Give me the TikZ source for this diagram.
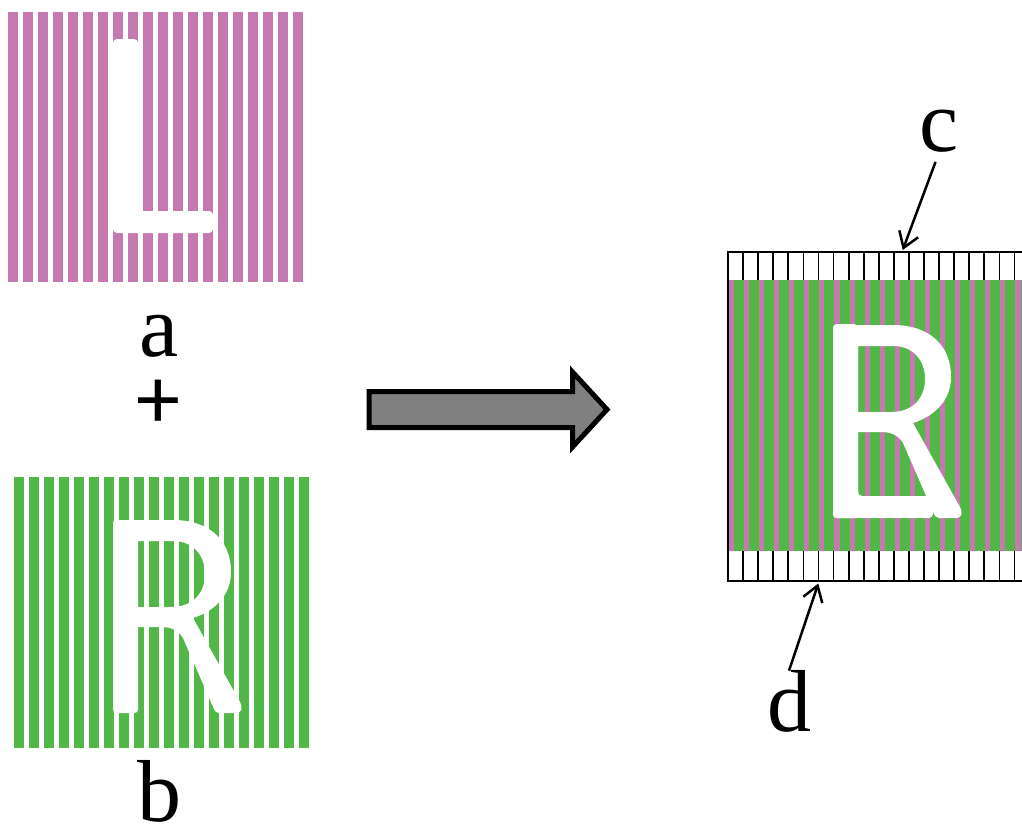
\documentclass[tikz,border=0pt]{standalone}
\usepackage{fontspec}
\setmainfont{Liberation Serif}
\newfontfamily\plusfont{Carlito}
\usetikzlibrary{arrows.meta}
\definecolor{stripepink}{RGB}{198,120,176}
\definecolor{stripegreen}{RGB}{81,184,72}
\definecolor{arrowgray}{RGB}{128,128,128}
\tikzset{
  lbl/.style={inner sep=0pt, outer sep=0pt, font=\fontsize{88}{100}\selectfont},
  pointer/.style={line width=2.5pt, -{Straight Barb[length=15pt,width=20pt,line width=2.5pt]}},
  letterL/.pic={
    \fill[white, rounded corners=4pt] (0,0) -- (25,0) -- (25,172) -- (100,172) -- (100,194) -- (0,194) -- cycle;
  },
  letterR/.pic={
    \fill[white, even odd rule]
      (0,3) .. controls (0,1) and (1,0) .. (3,0) -- (60,0)
      .. controls (96,0) and (118,20) .. (118,52)
      .. controls (118,75) and (102,91) .. (80,98)
      -- (127,182) .. controls (130,189) and (129,193) .. (122,193)
      -- (106,193) .. controls (103,193) and (102,191) .. (101,189)
      -- (70,118) .. controls (65,110) and (58,107) .. (48,107)
      -- (25,107) -- (25,189) .. controls (25,192) and (24,193) .. (21,193)
      -- (4,193) .. controls (1,193) and (0,192) .. (0,189) -- cycle
      (25,21) -- (60,21) .. controls (80,21) and (92,35) .. (92,54)
      .. controls (92,73) and (80,87) .. (58,87) -- (25,87) -- cycle;
  }
}
\begin{document}
\begin{tikzpicture}[x=1pt,y=-1pt]
\useasboundingbox (0,0) rectangle (1022,825);
\clip (0,0) rectangle (1022,825);
\fill[white] (0,0) rectangle (1022,825);

% panel a (pink with L)
\foreach \k in {0,...,19} {
  \fill[stripepink] ({8+15*\k},12) rectangle ++(10,270);
}
\pic at (113,39) {letterL};

% panel b (green with R)
\foreach \k in {0,...,19} {
  \fill[stripegreen] ({14+15*\k},477) rectangle ++(10,271);
}
\pic at (113,520) {letterR};

% labels
\node[lbl, anchor=base] (a) at (159,356.7) {a};
\node[lbl, font=\plusfont\fontsize{88}{100}\selectfont] (plus) at (158.3,404) {+};
\node[lbl, anchor=base] (b) at (159,821.7) {b};

% big arrow
\draw[line width=5pt, fill=arrowgray, miter limit=10]
  (369,391.5) -- (572.5,391.5) -- (572.5,372) -- (607,409.5) -- (572.5,447) -- (572.5,427.5) -- (369,427.5) -- cycle;

% composite
\foreach \k in {0,...,20} {
  \fill[stripepink] ({728+15.08*\k},280) rectangle ++(10,271);
}
\foreach \k in {0,...,19} {
  \fill[stripegreen] ({734+15.08*\k},280) rectangle ++(10,271);
}
\pic at (833,324) {letterL};
\pic at (833,325) {letterR};
\foreach \k in {0,...,19} {
  \draw[line width=1.8pt] ({728+15.08*\k},252) -- ++(0,28);
  \draw[line width=1.8pt] ({728+15.08*\k},551) -- ++(0,30);
}
\draw[line width=2pt] (1030,252) -- (728,252) -- (728,581) -- (1030,581);

% c and d labels with pointers
\node[lbl, anchor=base] (c) at (939,151.7) {c};
\node[lbl, anchor=base] (d) at (789,731.7) {d};
\coordinate (ctip) at (902.7,250);
\coordinate (dtip) at (818.3,583.5);
\draw[pointer, shorten <=10pt] (c.south) -- (ctip);
\draw[pointer] (d.north) -- (dtip);
\end{tikzpicture}
\end{document}
